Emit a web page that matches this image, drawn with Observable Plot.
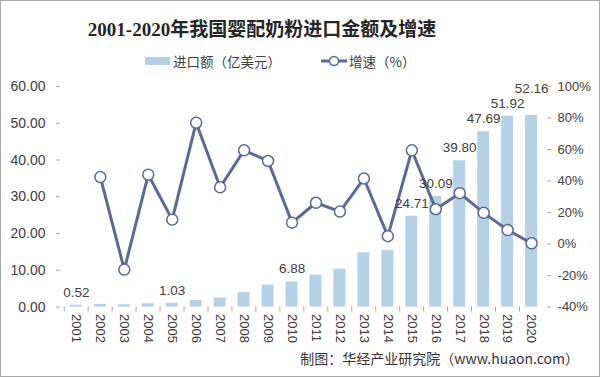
<!DOCTYPE html>
<html><head><meta charset="utf-8">
<script src="https://cdn.jsdelivr.net/npm/d3@7"></script>
<script src="https://cdn.jsdelivr.net/npm/@observablehq/plot@0.6"></script>
<style>
body{margin:0;background:#fff}
#wrap{position:relative;width:600px;height:377px;box-sizing:border-box;border:1px solid #a9a9a9;overflow:hidden;font-family:"Liberation Sans",Arial,"Noto Sans CJK SC",sans-serif;color:#404040;background:#fff}
#title{position:absolute;left:0;width:522px;top:13px;text-align:center;font-weight:bold;font-size:19px;font-family:"Liberation Serif","Noto Sans CJK SC",serif;color:#262626;white-space:nowrap}
#legend{position:absolute;top:52px;left:144px;font-size:13.5px;font-family:"Noto Sans CJK SC",sans-serif;display:flex;align-items:center;white-space:nowrap;line-height:16px}
#legend .sw{display:inline-block;width:25px;height:8px;margin-right:3px}
#legend svg{margin-right:2px}
#chart{position:absolute;left:-1px;top:69px}
#caption{position:absolute;right:20px;top:348px;font-size:14px;font-family:"Noto Sans CJK SC",sans-serif;color:#333;white-space:nowrap;line-height:18px}
</style></head>
<body>
<div id="wrap">
  <div id="title"></div>
  <div id="legend"></div>
  <div id="chart"></div>
  <div id="caption"></div>
</div>
<script>
// ---- data ----
const titleText = "2001-2020年我国婴配奶粉进口金额及增速";
const seriesNames = ["进口额（亿美元）", "增速（%）"];
const captionText = "制图：华经产业研究院（www.huaon.com）";
const years = [2001,2002,2003,2004,2005,2006,2007,2008,2009,2010,2011,2012,2013,2014,2015,2016,2017,2018,2019,2020];
const amounts = [0.52,0.74,0.62,0.89,1.03,1.81,2.45,3.92,5.95,6.88,8.70,10.30,14.75,15.45,24.71,30.09,39.80,47.69,51.92,52.16];
const growth = [null,42.5,-16.2,44,15.5,77,36,59.5,52.7,13.6,26.2,20.6,41.6,5,59.5,22.1,32.3,19.8,8.9,0.5];
const labelYears = [2001,2005,2010,2015,2016,2017,2018,2019,2020];
const raisedLabelYears = [2020];
const leftTicks = [0,10,20,30,40,50,60];
const rightTicks = [-40,-20,0,20,40,60,80,100];

// ---- colors ----
const barColor = "#b5d1e6";
const lineColor = "#5b6898";
const axisColor = "#a6a6a6";
const textColor = "#404040";

document.getElementById("title").textContent = titleText;
document.getElementById("caption").textContent = captionText;
document.getElementById("legend").innerHTML =
  `<span class="sw" style="background:${barColor}"></span><span>${seriesNames[0]}</span>` +
  `<span style="display:inline-block;width:40px"></span>` +
  `<svg width="26" height="12"><line x1="0" y1="6" x2="26" y2="6" stroke="${lineColor}" stroke-width="3"/><circle cx="13" cy="6" r="4.5" fill="#fff" stroke="${lineColor}" stroke-width="1.5"/></svg><span>${seriesNames[1]}</span>`;

const rows = years.map((year, i) => ({year, amount: amounts[i], growth: growth[i]}));
const lineRows = rows.filter(d => d.growth != null);

const yMax = leftTicks[leftTicks.length - 1];
const pMin = rightTicks[0], pMax = rightTicks[rightTicks.length - 1];
const toY = p => (p - pMin) * yMax / (pMax - pMin);
const fromY = v => v * (pMax - pMin) / yMax + pMin;

const W = 600, H = 280, mL = 60, mR = 53, mT = 16, mB = 43;
const step = (W - mL - mR) / years.length;

const chart = Plot.plot({
  width: W, height: H,
  marginTop: mT, marginBottom: mB, marginLeft: mL, marginRight: mR,
  x: {type: "band", domain: years, padding: 0, label: null},
  y: {domain: [0, yMax], label: null},
  style: {fontFamily: '"Liberation Sans", Arial, sans-serif', fontSize: "13px", color: textColor, background: "transparent"},
  marks: [
    Plot.barY(rows, {x: "year", y: "amount", fill: barColor, insetLeft: 6, insetRight: 6}),
    Plot.axisX({tickSize: 5, tickFormat: () => "", dx: -step / 2, stroke: axisColor, label: null}),
    Plot.axisX({tickSize: 0, tickRotate: 90, tickPadding: 7, tickFormat: d => String(d), line: true, stroke: axisColor, fill: textColor, fontSize: 13, label: null}),
    Plot.axisY(leftTicks, {anchor: "left", tickSize: 4, tickPadding: 11, tickFormat: d => d.toFixed(2), line: true, stroke: axisColor, fill: textColor, fontSize: 14, label: null}),
    Plot.axisY(rightTicks.map(toY), {anchor: "right", tickSize: 4, tickPadding: 7, tickFormat: v => Math.round(fromY(v)) + "%", line: true, stroke: axisColor, fill: textColor, fontSize: 13, label: null}),
    Plot.line(lineRows, {x: "year", y: d => toY(d.growth), stroke: lineColor, strokeWidth: 3}),
    Plot.dot(lineRows, {x: "year", y: d => toY(d.growth), r: 5.5, fill: "white", stroke: lineColor, strokeWidth: 1.5}),
    Plot.text(rows.filter(d => labelYears.includes(d.year) && !raisedLabelYears.includes(d.year)),
      {x: "year", y: "amount", text: d => d.amount.toFixed(2), dy: -13, fontSize: 13.5, fill: textColor}),
    Plot.text(rows.filter(d => raisedLabelYears.includes(d.year)),
      {x: "year", y: "amount", text: d => d.amount.toFixed(2), dy: -27, fontSize: 13.5, fill: textColor})
  ]
});
document.getElementById("chart").appendChild(chart);
</script>
</body></html>
